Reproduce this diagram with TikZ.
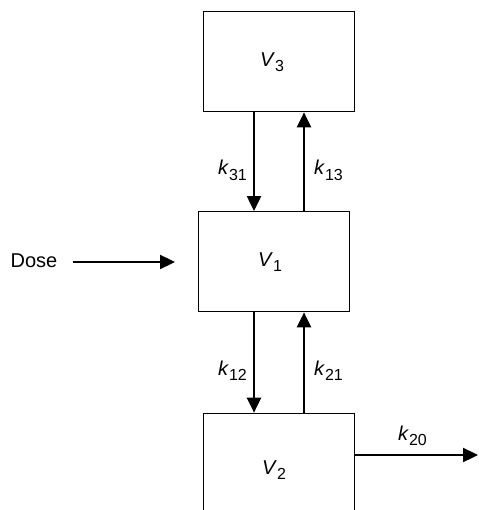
\documentclass[tikz,border=0pt]{standalone}
\usepackage{fontspec}
\setmainfont{Liberation Sans}
\usetikzlibrary{arrows.meta}
\newcommand{\sublab}[2]{\textit{#1}\raisebox{-5.5pt}{\fontsize{16}{16}\selectfont #2}}
\begin{document}
\begin{tikzpicture}[x=1pt,y=-1pt,
  box/.style={draw=black,line width=1.3pt,minimum width=151pt,minimum height=100pt,inner sep=0pt},
  txt/.style={font=\fontsize{20}{24}\selectfont,inner sep=0pt},
  arr/.style={line width=2.3pt,-{Triangle[length=15pt,width=14pt]}}]
\useasboundingbox (0,0) rectangle (478,510);
\clip (0,0) rectangle (478,510);
\node[box] (V3) at (278.8,61.7) {};
\node[box] (V1) at (273.8,261.7) {};
\node[box,minimum height=200pt] (V2) at (278.8,513.3) {};
\node[txt] (l3) at (272,62) {\sublab{V}{3}};
\node[txt] (l1) at (270,262) {\sublab{V}{1}};
\node[txt] (l2) at (274,470) {\sublab{V}{2}};
\coordinate (cd) at (254,0);
\coordinate (cu) at (304,0);
\draw[arr] (V3.south -| cd) -- (V1.north -| cd);
\draw[arr] (V1.north -| cu) -- (V3.south -| cu);
\draw[arr] (V1.south -| cd) -- (V2.north -| cd);
\draw[arr] (V2.north -| cu) -- (V1.south -| cu);
\node[txt,anchor=base west] (k31) at (218,175) {\sublab{k}{31}};
\node[txt,anchor=base west] (k13) at (314,175) {\sublab{k}{13}};
\node[txt,anchor=base west] (k12) at (218,375) {\sublab{k}{12}};
\node[txt,anchor=base west] (k21) at (314,375) {\sublab{k}{21}};
\node[txt] (dose) at (34,261) {Dose};
\coordinate (dend) at (175,262);
\draw[arr] ([xshift=15pt]dose.east |- dend) -- (dend);
\coordinate (out) at (478,455);
\draw[arr] (V2.east |- out) -- (out);
\node[txt,anchor=base west] (k20) at (398,440) {\sublab{k}{20}};
\end{tikzpicture}
\end{document}
